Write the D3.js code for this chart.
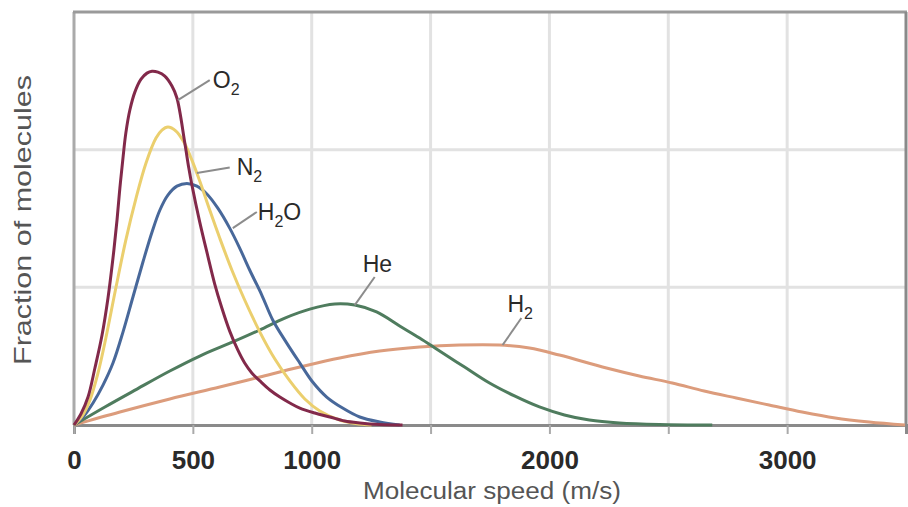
<!DOCTYPE html>
<meta charset="utf-8">
<head>
<style>
html, body {margin:0px; padding:0px; background:white;}
svg text {font-family: "Liberation Sans", Arial, sans-serif;}
</style>
</head>
<script src="https://d3js.org/d3.v7.min.js"></script>
<div id="my_dataviz"></div>
<script>

// values: speed in m/s, fraction in grid units (3 rows)
var o2Speed  = [0, 29, 59, 88, 118, 143, 164, 181, 193, 206, 218, 235, 256, 282, 307, 328, 353, 382, 412, 433, 466, 483, 496, 529, 563, 592, 622, 655, 689, 718, 748, 782, 824, 866, 908, 950, 1013, 1076, 1139, 1202, 1286, 1382]
var o2Frac   = [0, 0.08, 0.203, 0.414, 0.654, 0.923, 1.213, 1.489, 1.721, 1.939, 2.12, 2.288, 2.418, 2.512, 2.556, 2.57, 2.563, 2.534, 2.462, 2.375, 2.05, 1.866, 1.743, 1.474, 1.227, 1.024, 0.85, 0.682, 0.545, 0.45, 0.378, 0.32, 0.254, 0.203, 0.16, 0.123, 0.087, 0.058, 0.029, 0.015, 0.004, 0]

var n2Speed  = [0, 34, 67, 101, 134, 176, 218, 261, 303, 345, 370, 395, 429, 462, 496, 529, 571, 613, 664, 718, 782, 845, 908, 971, 1034, 1118, 1185, 1252]
var n2Frac   = [0, 0.065, 0.181, 0.378, 0.632, 0.995, 1.343, 1.648, 1.903, 2.084, 2.142, 2.164, 2.135, 2.055, 1.924, 1.772, 1.561, 1.358, 1.126, 0.908, 0.675, 0.479, 0.32, 0.189, 0.102, 0.036, 0.011, 0]

var h2oSpeed = [0, 38, 80, 122, 164, 206, 248, 290, 328, 361, 395, 433, 475, 517, 559, 605, 655, 697, 739, 790, 836, 895, 950, 1004, 1063, 1130, 1202, 1286, 1370]
var h2oFrac  = [0, 0.058, 0.16, 0.29, 0.45, 0.675, 0.93, 1.184, 1.40, 1.56, 1.67, 1.735, 1.755, 1.735, 1.678, 1.575, 1.43, 1.285, 1.126, 0.944, 0.763, 0.595, 0.45, 0.312, 0.203, 0.123, 0.058, 0.022, 0]

var heSpeed  = [0, 130, 265, 403, 529, 668, 781, 887, 992, 1097, 1181, 1273, 1370, 1454, 1538, 1643, 1748, 1853, 1958, 2063, 2168, 2294, 2462, 2685]
var heFrac   = [0, 0.131, 0.261, 0.392, 0.501, 0.603, 0.69, 0.777, 0.842, 0.879, 0.871, 0.821, 0.719, 0.632, 0.537, 0.421, 0.305, 0.211, 0.131, 0.073, 0.036, 0.015, 0.004, 0]

var h2Speed  = [0, 193, 403, 613, 782, 950, 1118, 1286, 1454, 1622, 1790, 1916, 2042, 2240, 2378, 2517, 2651, 2786, 2924, 3063, 3202, 3345, 3496]
var h2Frac   = [0, 0.094, 0.189, 0.276, 0.349, 0.421, 0.487, 0.537, 0.566, 0.581, 0.581, 0.559, 0.508, 0.414, 0.356, 0.305, 0.247, 0.196, 0.145, 0.094, 0.051, 0.022, 0]

var xTicks = [0, 500, 1000, 1500, 2000, 2500, 3000]
var xLabels = [0, 500, 1000, 2000, 3000]

// label leader lines: from point on curve to label (speed, fraction)
var labels = [
  {name: "O", sub: "2", tail: "",  from: [437, 2.36],  to: [571, 2.505], dx: 3,  dy: 8},
  {name: "N", sub: "2", tail: "",  from: [517, 1.83],  to: [655, 1.87],  dx: 7,  dy: 7},
  {name: "H", sub: "2", tail: "O", from: [668, 1.43],  to: [769, 1.547], dx: 1,  dy: 8},
  {name: "He", sub: "", tail: "",  from: [1181, 0.871], to: [1265, 1.075], dx: -12, dy: -5},
  {name: "H", sub: "2", tail: "",  from: [1803, 0.581], to: [1882, 0.777], dx: -14, dy: -6}
]

var series = [
  {speed: h2Speed,  frac: h2Frac,  color: "#dc9c7c"},
  {speed: heSpeed,  frac: heFrac,  color: "#4f7c5e"},
  {speed: h2oSpeed, frac: h2oFrac, color: "#48689a"},
  {speed: n2Speed,  frac: n2Frac,  color: "#ebcf6e"},
  {speed: o2Speed,  frac: o2Frac,  color: "#82294a"}
]

var margin = {top: 12, right: 2, bottom: 82, left: 74},
  width = 908 - margin.left - margin.right,
  height = 507 - margin.top - margin.bottom

var svg = d3.select("#my_dataviz")
.append("svg")
  .attr("width", 908)
  .attr("height", 507)
.append("g")
  .attr("transform", "translate(" + margin.left + "," + margin.top + ")")

var x = d3.scaleLinear().domain([0, 3500]).range([0, width])
var y = d3.scaleLinear().domain([0, 3]).range([height, 0])

// grid
svg.append("g")
  .selectAll("line")
  .data(xTicks.filter(function(d){ return d > 0 }))
  .enter().append("line")
    .attr("x1", function(d){ return x(d) })
    .attr("x2", function(d){ return x(d) })
    .attr("y1", 0).attr("y2", height)
    .style("stroke", "#e2e2e2").style("stroke-width", 3)
svg.append("g")
  .selectAll("line")
  .data([1, 2])
  .enter().append("line")
    .attr("x1", 0).attr("x2", width)
    .attr("y1", function(d){ return y(d) })
    .attr("y2", function(d){ return y(d) })
    .style("stroke", "#e2e2e2").style("stroke-width", 3)

// frame
svg.append("line").attr("x1", 0).attr("x2", 0).attr("y1", 0).attr("y2", height)
  .style("stroke", "#aaa").style("stroke-width", 3)
svg.append("line").attr("x1", -1).attr("x2", width + 1).attr("y1", 0).attr("y2", 0)
  .style("stroke", "#9a9a9a").style("stroke-width", 3)
svg.append("line").attr("x1", width).attr("x2", width).attr("y1", 0).attr("y2", height)
  .style("stroke", "#8a8a8a").style("stroke-width", 3)

// x axis
var xAxis = svg.append("g")
  .attr("transform", "translate(0," + height + ")")
  .call(d3.axisBottom(x)
    .tickValues(xTicks)
    .tickSize(9)
    .tickPadding(17)
    .tickFormat(function(d){ return xLabels.indexOf(d) >= 0 ? d : "" }))
xAxis.select(".domain").style("stroke", "#8a8a8a").style("stroke-width", 3)
xAxis.selectAll(".tick line").style("stroke", "#aaa").style("stroke-width", 2)
xAxis.selectAll(".tick text")
  .style("font-size", "26px")
  .style("font-weight", "bold")
  .style("fill", "#2a2a2a")

// curves
var line = d3.line()
  .x(function(d){ return x(d[0]) })
  .y(function(d){ return y(Math.max(0, d[1])) })
  .curve(d3.curveCatmullRom.alpha(0.5))

series.forEach(function(s) {
  svg.append("path")
    .datum(d3.zip(s.speed, s.frac))
    .attr("d", line)
    .style("fill", "none")
    .style("stroke", s.color)
    .style("stroke-width", 3)
})

// labels
labels.forEach(function(l) {
  svg.append("line")
    .attr("x1", x(l.from[0])).attr("y1", y(l.from[1]))
    .attr("x2", x(l.to[0])).attr("y2", y(l.to[1]))
    .style("stroke", "#8c8c8c").style("stroke-width", 2)
  var t = svg.append("text")
    .attr("x", x(l.to[0]) + l.dx)
    .attr("y", y(l.to[1]) + l.dy)
    .style("font-size", "23px")
    .style("fill", "#2a2a2a")
  t.append("tspan").text(l.name)
  if (l.sub) t.append("tspan").attr("dy", 7).style("font-size", "16px").text(l.sub)
  if (l.tail) t.append("tspan").attr("dy", -7).text(l.tail)
})

// axis titles
svg.append("text")
  .attr("x", 492 - margin.left)
  .attr("y", height + 74)
  .attr("text-anchor", "middle")
  .attr("textLength", 258)
  .attr("lengthAdjust", "spacingAndGlyphs")
  .style("font-size", "23px")
  .style("fill", "#555")
  .text("Molecular speed (m/s)")

svg.append("text")
  .attr("transform", "rotate(-90)")
  .attr("x", -(220 - margin.top))
  .attr("y", 31 - margin.left)
  .attr("text-anchor", "middle")
  .attr("textLength", 290)
  .attr("lengthAdjust", "spacingAndGlyphs")
  .style("font-size", "24px")
  .style("fill", "#555")
  .text("Fraction of molecules")

</script>
</html>
